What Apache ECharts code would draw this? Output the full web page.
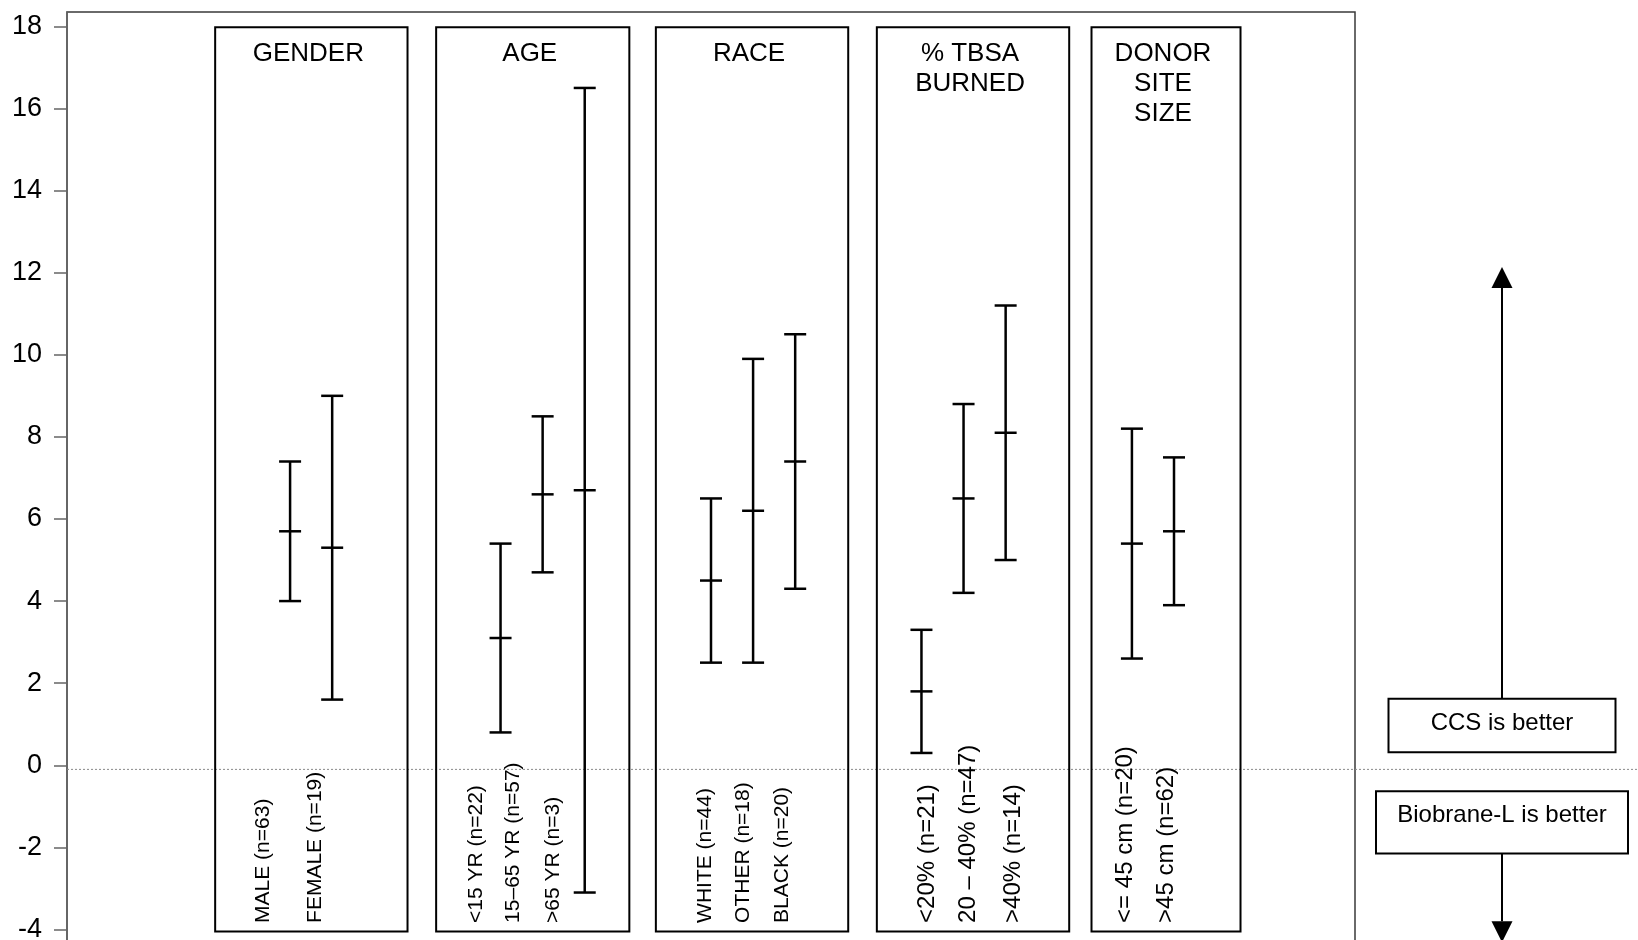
<!DOCTYPE html>
<html>
<head>
<meta charset="utf-8">
<script src="https://cdn.jsdelivr.net/npm/echarts@6/dist/echarts.min.js"></script>
<style>
  html, body { margin: 0; padding: 0; background: #fff; }
  #chart { width: 1638px; height: 940px; }
</style>
</head>
<body>
<div id="chart"></div>
<script>
// Subgroup comparisons: mean difference with lower / upper confidence limits
const groupTitles = ['GENDER', 'AGE', 'RACE', '% TBSA\nBURNED', 'DONOR\nSITE\nSIZE'];
const subgroups = [
  ['MALE (n=63)', 'FEMALE (n=19)'],
  ['<15 YR (n=22)', '15\u201365 YR (n=57)', '>65 YR (n=3)'],
  ['WHITE (n=44)', 'OTHER (n=18)', 'BLACK (n=20)'],
  ['<20% (n=21)', '20 \u2013 40% (n=47)', '>40% (n=14)'],
  ['<= 45 cm (n=20)', '>45 cm (n=62)']
];
const meanDiff = [[5.7, 5.3], [3.1, 6.6, 6.7], [4.5, 6.2, 7.4], [1.8, 6.5, 8.1], [5.4, 5.7]];
const lowerCI  = [[4.0, 1.6], [0.8, 4.7, -3.1], [2.5, 2.5, 4.3], [0.3, 4.2, 5.0], [2.6, 3.9]];
const upperCI  = [[7.4, 9.0], [5.4, 8.5, 16.5], [6.5, 9.9, 10.5], [3.3, 8.8, 11.2], [8.2, 7.5]];
const yTicks = [-4, -2, 0, 2, 4, 6, 8, 10, 12, 14, 16, 18];
const annotationTexts = ['CCS is better', 'Biobrane-L is better'];

// Layout (x in slot units along the hidden x axis, y in axis units)
const LAYOUT = {
  firstSlot: [5, 10, 15, 20, 25],
  frames: [[3.22, 7.79], [8.47, 13.06], [13.69, 18.26], [18.94, 23.51], [24.04, 27.58]],
  frameTop: 17.98,
  frameBottom: -4.05,
  labelShift: [[-0.64, -0.41], [-0.57, -0.70, -0.75], [-0.14, -0.24, -0.32], [0.13, 0.11, 0.18], [-0.16, -0.17]],
  labelFont: [21, 21, 21, 24, 24],
  labelBase: -3.84,
  baseline: -0.1,
  arrowOffset: 147,
  ccsBox: { top: 1.62, bottom: 0.32, width: 227 },
  bioBox: { top: -0.63, bottom: -2.15, width: 252 },
  arrowUpTip: 12.14,
  arrowDownTip: -4.31
};

const FONT = '"Liberation Sans", Arial, sans-serif';
const INK = '#000';

// Build series rows from the named arrays
const barRows = [];
const labelRows = [];
subgroups.forEach((names, g) => {
  names.forEach((name, k) => {
    const slot = LAYOUT.firstSlot[g] + k;
    barRows.push([slot, lowerCI[g][k], meanDiff[g][k], upperCI[g][k]]);
    labelRows.push([slot + LAYOUT.labelShift[g][k], LAYOUT.labelBase, g, k]);
  });
});

function renderFrame(params, api) {
  const g = params.dataIndex;
  const [x0, x1] = LAYOUT.frames[g];
  const tl = api.coord([x0, LAYOUT.frameTop]);
  const br = api.coord([x1, LAYOUT.frameBottom]);
  return {
    type: 'group',
    children: [
      { type: 'rect', shape: { x: tl[0], y: tl[1], width: br[0] - tl[0], height: br[1] - tl[1] },
        style: { fill: 'none', stroke: INK, lineWidth: 2 } },
      { type: 'text', style: { text: groupTitles[g], x: (tl[0] + br[0]) / 2 - 3, y: tl[1] + 12,
        align: 'center', verticalAlign: 'top', font: '26px ' + FONT, lineHeight: 30, fill: INK } }
    ]
  };
}

function renderErrorBar(params, api) {
  const x = api.value(0);
  const lo = api.coord([x, api.value(1)]);
  const mid = api.coord([x, api.value(2)]);
  const hi = api.coord([x, api.value(3)]);
  const half = 11;
  const st = { stroke: INK, lineWidth: 2.5 };
  const hline = (p) => ({ type: 'line', shape: { x1: p[0] - half, y1: p[1], x2: p[0] + half, y2: p[1] }, style: st });
  return {
    type: 'group',
    children: [
      { type: 'line', shape: { x1: lo[0], y1: lo[1], x2: hi[0], y2: hi[1] }, style: st },
      hline(lo), hline(mid), hline(hi)
    ]
  };
}

function renderLabel(params, api) {
  const p = api.coord([api.value(0), api.value(1)]);
  const g = api.value(2), k = api.value(3);
  return {
    type: 'text',
    x: p[0], y: p[1],
    rotation: Math.PI / 2,
    style: { text: subgroups[g][k], x: 0, y: 0, align: 'left', verticalAlign: 'middle',
      font: LAYOUT.labelFont[g] + 'px ' + FONT, fill: INK }
  };
}

function renderBaseline(params, api) {
  const y = api.coord([0, LAYOUT.baseline])[1];
  const cs = params.coordSys;
  return {
    type: 'line',
    shape: { x1: cs.x, y1: y, x2: api.getWidth(), y2: y },
    style: { stroke: '#8a8a8a', lineWidth: 1, lineDash: [2, 2] }
  };
}

function renderAnnotation(params, api) {
  const cs = params.coordSys;
  const cx = cs.x + cs.width + LAYOUT.arrowOffset;
  const Y = (v) => api.coord([0, v])[1];
  const st = { stroke: INK, lineWidth: 2 };
  const box = (b, text) => {
    const top = Y(b.top), bot = Y(b.bottom);
    return [
      { type: 'rect', shape: { x: cx - b.width / 2, y: top, width: b.width, height: bot - top },
        style: { fill: '#fff', stroke: INK, lineWidth: 2 } },
      { type: 'text', style: { text, x: cx, y: top + 24.5, align: 'center', verticalAlign: 'middle',
        font: '24px ' + FONT, fill: INK } }
    ];
  };
  const head = 21, hw = 10.5;
  const upTip = Y(LAYOUT.arrowUpTip);
  const dnTip = Y(LAYOUT.arrowDownTip);
  const upStart = Y(LAYOUT.ccsBox.top);
  const dnStart = Y(LAYOUT.bioBox.bottom);
  return {
    type: 'group',
    children: [
      { type: 'line', shape: { x1: cx, y1: upStart, x2: cx, y2: upTip + head }, style: st },
      { type: 'polygon', shape: { points: [[cx, upTip], [cx - hw, upTip + head], [cx + hw, upTip + head]] },
        style: { fill: INK } },
      { type: 'line', shape: { x1: cx, y1: dnStart, x2: cx, y2: dnTip - head }, style: st },
      { type: 'polygon', shape: { points: [[cx, dnTip], [cx - hw, dnTip - head], [cx + hw, dnTip - head]] },
        style: { fill: INK } },
      ...box(LAYOUT.ccsBox, annotationTexts[0]),
      ...box(LAYOUT.bioBox, annotationTexts[1])
    ]
  };
}

const chart = echarts.init(document.getElementById('chart'), null, { renderer: 'canvas' });
chart.setOption({
  animation: false,
  backgroundColor: '#fff',
  grid: {
    left: 67, right: 283, top: 12, bottom: -10,
    containLabel: false, outerBoundsMode: 'none',
    show: true, borderColor: '#3a3a3a', borderWidth: 1.5, backgroundColor: 'transparent'
  },
  xAxis: { type: 'value', min: -0.3, max: 30.3, show: false },
  yAxis: {
    type: 'value', min: -4.5, max: 18.35,
    axisLine: { show: true, onZero: false, lineStyle: { color: '#666', width: 1.5 } },
    axisTick: { show: true, inside: false, length: 13, customValues: yTicks, lineStyle: { color: '#666', width: 1.5 } },
    axisLabel: { customValues: yTicks, fontSize: 27, fontFamily: FONT, color: INK, margin: 25 },
    splitLine: { show: false }
  },
  series: [
    { type: 'custom', name: 'baseline', silent: true, clip: false, data: [[0]], renderItem: renderBaseline, z: 1 },
    { type: 'custom', name: 'frames', silent: true, clip: false, data: groupTitles.map((t, i) => [i]), renderItem: renderFrame, z: 2 },
    { type: 'custom', name: 'labels', silent: true, clip: false, data: labelRows, renderItem: renderLabel, z: 3,
      encode: { x: 0, y: 1 } },
    { type: 'custom', name: 'difference', silent: true, clip: false, data: barRows, renderItem: renderErrorBar, z: 4,
      encode: { x: 0, y: [1, 2, 3] } },
    { type: 'custom', name: 'annotation', silent: true, clip: false, data: [[0]], renderItem: renderAnnotation, z: 5 }
  ]
});
</script>
</body>
</html>
